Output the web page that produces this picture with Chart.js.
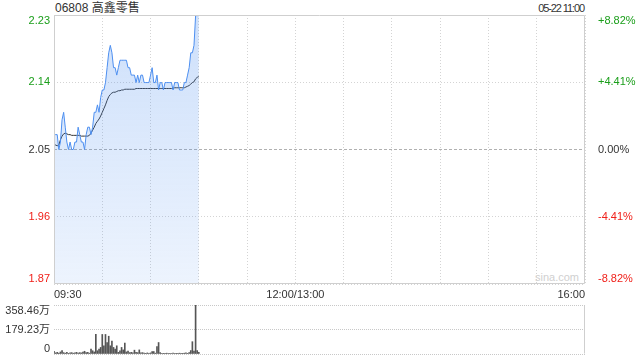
<!DOCTYPE html>
<html>
<head>
<meta charset="utf-8">
<script src="https://cdn.jsdelivr.net/npm/chart.js@4.4.0/dist/chart.umd.min.js"></script>
<style>
body { margin:0; background:#fff; width:640px; height:360px; overflow:hidden; position:relative; font-family:"Liberation Sans","Noto Sans CJK SC",Arial,sans-serif; }
canvas { position:absolute; left:0; }
#price { top:0; }
#vol { top:300px; }
.txt { position:absolute; color:#333; white-space:nowrap; font-size:12px; line-height:14px; }
</style>
</head>
<body>
<div class="txt" style="left:55px;top:1px;">06808 高鑫零售</div>
<div class="txt" style="right:56px;top:1px;font-size:11px;letter-spacing:-1.1px;">05-22 11:00</div>
<div class="txt" style="left:535px;top:270px;font-size:11px;color:#d0d0d0;">sina.com</div>
<canvas id="price" width="640" height="300"></canvas>
<canvas id="vol" width="640" height="60"></canvas>
<script>
// 昨收 + 涨跌幅刻度
const prevClose = 2.05;
const pctLevels = [-8.82, -4.41, 0, 4.41, 8.82];
const priceTickLabels = ['1.87', '1.96', '2.05', '2.14', '2.23'];
const pctTickLabels = ['-8.82%', '-4.41%', '0.00%', '+4.41%', '+8.82%'];
const timeTickMinutes = [0, 150, 330];
const timeTickLabels = ['09:30', '12:00/13:00', '16:00'];
const volTickValues = [0, 179.23, 358.46];
const volTickLabels = ['0', '179.23万', '358.46万'];

// 分时价格 (09:30 - 11:00, 每分钟)
const prices = [
  2.07, 2.07, 2.07, 2.05, 2.06, 2.09, 2.10, 2.08, 2.06, 2.05,
  2.06, 2.05, 2.05, 2.06, 2.06, 2.08, 2.07, 2.06, 2.06, 2.05,
  2.07, 2.08, 2.08, 2.07, 2.08, 2.10, 2.10, 2.11, 2.10, 2.12,
  2.13, 2.13, 2.14, 2.16, 2.18, 2.19, 2.18, 2.16, 2.16, 2.15,
  2.16, 2.17, 2.17, 2.17, 2.17, 2.17, 2.16, 2.16, 2.15, 2.15,
  2.15, 2.14, 2.15, 2.14, 2.15, 2.15, 2.14, 2.14, 2.14, 2.14,
  2.15, 2.16, 2.14, 2.14, 2.15, 2.13, 2.14, 2.14, 2.13, 2.14,
  2.14, 2.14, 2.14, 2.14, 2.13, 2.14, 2.14, 2.14, 2.13, 2.13,
  2.13, 2.14, 2.14, 2.15, 2.16, 2.18, 2.18, 2.19, 2.23, 2.23,
  2.23
];

// 均价
const avgPrices = [
  2.057, 2.056, 2.055, 2.056, 2.063, 2.068, 2.071, 2.072, 2.071, 2.070,
  2.070, 2.069, 2.069, 2.069, 2.069, 2.069, 2.069, 2.068, 2.068, 2.068,
  2.068, 2.068, 2.069, 2.072, 2.076, 2.080, 2.085, 2.088, 2.091, 2.095,
  2.100, 2.105, 2.110, 2.116, 2.121, 2.124, 2.126, 2.127, 2.127, 2.128,
  2.129, 2.129, 2.130, 2.130, 2.131, 2.131, 2.131, 2.131, 2.131, 2.131,
  2.131, 2.132, 2.132, 2.132, 2.132, 2.132, 2.132, 2.132, 2.132, 2.132,
  2.132, 2.132, 2.132, 2.132, 2.132, 2.132, 2.132, 2.132, 2.132, 2.132,
  2.132, 2.132, 2.132, 2.132, 2.132, 2.133, 2.133, 2.133, 2.133, 2.133,
  2.133, 2.133, 2.134, 2.135, 2.136, 2.138, 2.140, 2.141, 2.145, 2.147,
  2.148
];

// 成交量 (万股)
const volumes = [
  20, 8, 12, 6, 15, 25, 10, 6, 12, 5,
  8, 10, 6, 8, 12, 6, 10, 8, 14, 20,
  10, 12, 6, 36, 24, 15, 143, 24, 36, 48,
  143, 60, 143, 84, 130, 60, 95, 48, 36, 60,
  12, 24, 48, 30, 80, 15, 22, 10, 12, 8,
  28, 12, 10, 30, 8, 10, 6, 5, 8, 5,
  8, 18, 18, 6, 55, 84, 10, 4, 5, 4,
  6, 4, 5, 4, 6, 4, 5, 4, 6, 4,
  5, 6, 8, 5, 10, 25, 90, 22, 358.46, 25,
  12
];

const GREEN = '#1a9e1a';
const RED = '#f0201a';
const tickColors = [RED, RED, '#333', GREEN, GREEN];

Chart.defaults.font.family = '"Liberation Sans", "Noto Sans CJK SC", Arial, sans-serif';
Chart.defaults.font.size = 11;
Chart.defaults.color = '#333';

// 首尾刻度文字往内收
const edgeLabels = {
  id: 'edgeLabels',
  beforeDraw(chart) {
    const area = chart.chartArea;
    Object.values(chart.scales).forEach(s => {
      if (s.axis !== 'y' || !s.options.display) return;
      s.getLabelItems(area).forEach(item => {
        const y = item.options.translation[1];
        if (Math.abs(y - area.top) < 1.5) item.options.textBaseline = 'top';
        if (Math.abs(y - area.bottom) < 1.5) item.options.textBaseline = 'bottom';
      });
    });
  }
};

// 外框
const frame = {
  id: 'frame',
  afterDatasetsDraw(chart, args, opts) {
    const a = chart.chartArea;
    const ctx = chart.ctx;
    const l = Math.round(a.left) + 0.5, r = Math.round(a.right) - 0.5;
    const t = Math.round(a.top) + 0.5, b = Math.round(a.bottom) - 0.5;
    ctx.save();
    ctx.strokeStyle = '#cfcfcf';
    ctx.lineWidth = 1;
    (opts.solid || []).forEach(side => {
      ctx.beginPath();
      if (side === 'left') { ctx.moveTo(l, t); ctx.lineTo(l, b); }
      if (side === 'right') { ctx.moveTo(r, t); ctx.lineTo(r, b); }
      if (side === 'top') { ctx.moveTo(l, t); ctx.lineTo(r, t); }
      if (side === 'bottom') { ctx.moveTo(l, b); ctx.lineTo(r, b); }
      ctx.stroke();
    });
    ctx.restore();
  }
};

const priceTicks = scale => { scale.ticks = pctLevels.map(p => ({ value: prevClose * (1 + p / 100) })); };
const yMin = prevClose * (1 + pctLevels[0] / 100);
const yMax = prevClose * (1 + pctLevels[pctLevels.length - 1] / 100);

new Chart(document.getElementById('price'), {
  type: 'line',
  data: {
    datasets: [
      {
        data: prices.map((p, i) => ({ x: i, y: p })),
        borderColor: '#4d8ff0',
        borderWidth: 1,
        pointRadius: 0,
        tension: 0,
        fill: 'start',
        backgroundColor: ctx => {
          const area = ctx.chart.chartArea;
          if (!area) return 'rgba(77,143,240,0.15)';
          const g = ctx.chart.ctx.createLinearGradient(0, area.top, 0, area.bottom);
          g.addColorStop(0, 'rgba(77,143,240,0.28)');
          g.addColorStop(1, 'rgba(77,143,240,0.10)');
          return g;
        }
      },
      {
        data: avgPrices.map((p, i) => ({ x: i, y: p })),
        borderColor: '#333',
        borderWidth: 1,
        pointRadius: 0,
        tension: 0,
        fill: false
      }
    ]
  },
  options: {
    responsive: false,
    animation: false,
    layout: { padding: { top: 15, left: 0, right: 0, bottom: 0 } },
    plugins: { legend: { display: false }, tooltip: { enabled: false }, frame: { solid: ['left', 'right', 'top', 'bottom'] } },
    scales: {
      x: {
        type: 'linear', min: 0, max: 330,
        afterFit: s => { s.height = 16; },
        grid: { color: '#d4d4d4', drawTicks: false },
        border: { display: false, dash: [1, 2] },
        ticks: {
          stepSize: 30, autoSkip: false, maxRotation: 0, align: 'inner', padding: 4,
          callback: v => { const k = timeTickMinutes.indexOf(v); return k < 0 ? '' : timeTickLabels[k]; }
        }
      },
      y: {
        position: 'left', min: yMin, max: yMax,
        afterBuildTicks: priceTicks,
        afterFit: s => { s.width = 54; },
        grid: { drawTicks: false, color: c => c.index === 2 ? '#b0b0b0' : '#d4d4d4' },
        border: { display: false, dash: c => c.index === 2 ? [3, 2] : [1, 2] },
        ticks: { padding: 4, color: c => tickColors[c.index], callback: (v, i) => priceTickLabels[i] }
      },
      y2: {
        position: 'right', min: yMin, max: yMax,
        afterBuildTicks: priceTicks,
        afterFit: s => { s.width = 55; },
        grid: { display: false },
        border: { display: false },
        ticks: { padding: 5, color: c => tickColors[c.index], callback: (v, i) => pctTickLabels[i] }
      }
    }
  },
  plugins: [edgeLabels, frame]
});

new Chart(document.getElementById('vol'), {
  type: 'bar',
  data: {
    datasets: [{
      data: volumes.map((v, i) => ({ x: i, y: v })),
      backgroundColor: '#555',
      barThickness: 1
    }]
  },
  options: {
    responsive: false,
    animation: false,
    layout: { padding: { top: 5, bottom: 6, left: 0, right: 55 } },
    plugins: { legend: { display: false }, tooltip: { enabled: false }, frame: { solid: ['right'] } },
    scales: {
      x: { type: 'linear', min: 0, max: 330, display: false, offset: false },
      y: {
        min: 0, max: volTickValues[volTickValues.length - 1],
        afterBuildTicks: s => { s.ticks = volTickValues.map(v => ({ value: v })); },
        afterFit: s => { s.width = 54; s.paddingTop = 0; s.paddingBottom = 0; },
        grid: { color: '#c8c8c8', drawTicks: false },
        border: { display: false, dash: [1, 1] },
        ticks: { padding: 4, callback: (v, i) => volTickLabels[i] }
      }
    }
  },
  plugins: [edgeLabels, frame]
});
</script>
</body>
</html>
